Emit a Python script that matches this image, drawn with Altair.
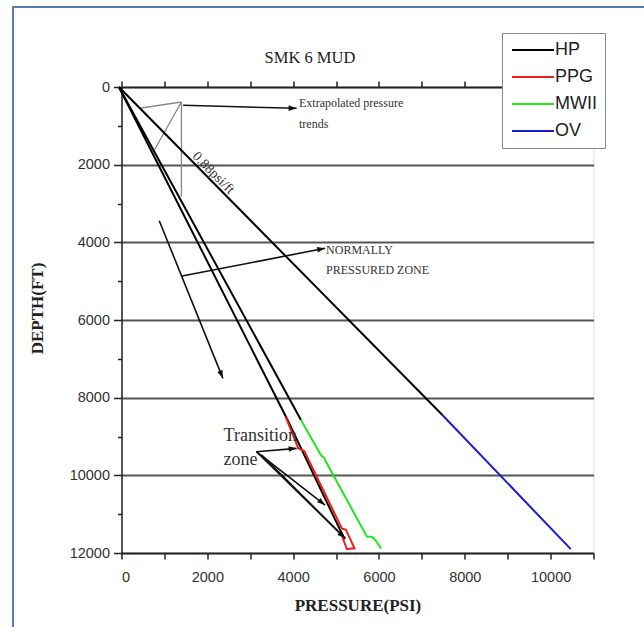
import math
import altair as alt
import pandas as pd

# ---------------- data ----------------
series_names = ["HP", "PPG", "MWII", "OV"]
series_colors = ["#000000", "#ee1c1c", "#22e622", "#1a1ad6"]

hp_pressure = [-60, 3850, 5200]
hp_depth = [0, 8530, 11650]

ppg_pressure = [3824, 4120, 4260, 5135, 5230, 5431, 5253, 5150]
ppg_depth = [8490, 9305, 9374, 11366, 11400, 11880, 11898, 11600]

mwii_pressure = [4183, 4660, 4720, 4760, 5721, 5838, 5916, 6049]
mwii_depth = [8576, 9500, 9540, 9640, 11581, 11581, 11666, 11880]

ov_pressure = [7478, 10470]
ov_depth = [8446, 11900]

# black extrapolated trends above the data
trend_mw_pressure = [-60, 4183]
trend_mw_depth = [0, 8576]
trend_ov_pressure = [-60, 7478]
trend_ov_depth = [0, 8446]

# thin grey construction lines (p1, d1, p2, d2)
grey_p1 = [459, 1396, 1396]
grey_d1 = [541, 386, 386]
grey_p2 = [1396, 770, 1396]
grey_d2 = [386, 1615, 2825]

# annotation arrows (p1, d1, p2, d2)
arrow_p1 = [1436, 880, 1412, 3145, 3145, 3145, 3269]
arrow_d1 = [471, 3443, 4867, 9392, 9392, 9392, 9477]
arrow_p2 = [4082, 2363, 4745, 4082, 4745, 5213, 5213]
arrow_d2 = [549, 7502, 4154, 9305, 10765, 11623, 11623]

# annotation texts
note_text = ["Extrapolated pressure", "trends", "NORMALLY", "PRESSURED ZONE", "Transition", "zone"]
note_pressure = [4136, 4136, 4768, 4768, 2379, 2379]
note_depth = [412, 953, 4198, 4713, 8988, 9606]
note_size = [12, 12, 12, 12, 18, 18]

slope_text = ["0.88psi/ft"]
slope_pressure = [2140]
slope_depth = [2215]

chart_title = "SMK 6 MUD"

x_ticks = list(range(0, 11001, 1000))
y_ticks = list(range(0, 12001, 1000))

W, H = 472, 466
XMAX, YMAX = 11000, 12000

# ---------------- tables ----------------
rows = []
for name, ps, ds in [("HP", hp_pressure, hp_depth), ("PPG", ppg_pressure, ppg_depth),
                     ("MWII", mwii_pressure, mwii_depth), ("OV", ov_pressure, ov_depth)]:
    for i, (p, d) in enumerate(zip(ps, ds)):
        rows.append({"series": name, "pressure": p, "depth": d, "order": i})
lines_df = pd.DataFrame(rows)

trend_rows = []
for k, (ps, ds) in enumerate([(trend_mw_pressure, trend_mw_depth), (trend_ov_pressure, trend_ov_depth)]):
    for i, (p, d) in enumerate(zip(ps, ds)):
        trend_rows.append({"seg": k, "pressure": p, "depth": d, "order": i})
trend_df = pd.DataFrame(trend_rows)

grey_df = pd.DataFrame({"p1": grey_p1, "d1": grey_d1, "p2": grey_p2, "d2": grey_d2})
arrow_df = pd.DataFrame({"p1": arrow_p1, "d1": arrow_d1, "p2": arrow_p2, "d2": arrow_d2})
arrow_df["angle"] = [
    math.degrees(math.atan2((b - a) / XMAX * W, -(d - c) / YMAX * H)) % 360
    for a, b, c, d in zip(arrow_df.p1, arrow_df.p2, arrow_df.d1, arrow_df.d2)
]
notes_df = pd.DataFrame({"text": note_text, "pressure": note_pressure, "depth": note_depth, "size": note_size})
slope_df = pd.DataFrame({"text": slope_text, "pressure": slope_pressure, "depth": slope_depth})

xscale = alt.Scale(domain=[0, XMAX], nice=False, zero=False)
yscale = alt.Scale(domain=[0, YMAX], reverse=True, nice=False, zero=False)

even = "datum.value % 2000 === 0"

x_bottom = alt.Axis(
    values=x_ticks, labelExpr=f"{even} ? datum.label : ''", format="d",
    title="PRESSURE(PSI)", titleFont="Liberation Serif", titleFontSize=17, titleFontWeight="bold",
    titleColor="#222", titlePadding=14,
    labelFont="Liberation Sans", labelFontSize=14.5, labelColor="#333", labelPadding=11,
    tickSize=6, tickColor="#222", tickWidth=1.5, domainColor="#222", domainWidth=1.5,
    grid=False, labelOverlap=False,
)
x_top = alt.Axis(
    orient="top", values=x_ticks, labels=False, title="",
    tickSize=6, tickColor="#222", tickWidth=1.5, domainColor="#222", domainWidth=1.5, grid=False,
)
y_left = alt.Axis(
    values=y_ticks, labelExpr=f"{even} ? datum.label : ''", format="d",
    title="DEPTH(FT)", titleFont="Liberation Serif", titleFontSize=17, titleFontWeight="bold",
    titleColor="#222", titleX=-75, titleY=221,
    labelFont="Liberation Sans", labelFontSize=14.5, labelColor="#333", labelPadding=4,
    tickSize={"condition": {"test": even, "value": 8}, "value": 4},
    tickColor="#222", tickWidth=1.5, domainColor="#222", domainWidth=1.5,
    grid=True, gridColor="#555", gridWidth=2,
    gridOpacity={"condition": {"test": even, "value": 1}, "value": 0},
    labelOverlap=False,
)

frame = alt.Chart(pd.DataFrame({"k": [0]})).mark_rect(
    fill="transparent", stroke="#5b7bb2", strokeWidth=2
).encode(x=alt.value(-108.5), x2=alt.value(640), y=alt.value(-80), y2=alt.value(640))

title_mark = alt.Chart(pd.DataFrame({"text": [chart_title]})).mark_text(
    font="Liberation Serif", fontSize=16.5, color="#222", align="center", baseline="middle"
).encode(text="text:N", x=alt.value(310 - 121.5), y=alt.value(58 - 87))

top_axis_layer = alt.Chart(pd.DataFrame({"pressure": [0]})).mark_point(opacity=0).encode(
    x=alt.X("pressure:Q", scale=xscale, axis=x_top)
)

grey = alt.Chart(grey_df).mark_rule(color="#888888", strokeWidth=1.3).encode(
    x=alt.X("p1:Q", scale=xscale, axis=None), x2="p2:Q",
    y=alt.Y("d1:Q", scale=yscale, axis=None), y2="d2:Q",
)

trend = alt.Chart(trend_df).mark_line(color="#000000", strokeWidth=2).encode(
    x=alt.X("pressure:Q", scale=xscale, axis=None),
    y=alt.Y("depth:Q", scale=yscale, axis=None),
    detail="seg:N", order="order:Q",
)

lines = alt.Chart(lines_df).mark_line(strokeWidth=2).encode(
    x=alt.X("pressure:Q", scale=xscale, axis=x_bottom),
    y=alt.Y("depth:Q", scale=yscale, axis=y_left),
    color=alt.Color(
        "series:N",
        scale=alt.Scale(domain=series_names, range=series_colors),
        sort=series_names,
        legend=alt.Legend(
            title=None, orient="none", legendX=380.5, legendY=-54,
            symbolType="M-1,0L5,0", symbolSize=196, symbolStrokeWidth=2,
            labelFont="Liberation Sans", labelFontSize=18, labelColor="#222", labelOffset=27,
            strokeColor="#888888", fillColor="white", padding=8, rowPadding=9,
        ),
    ),
    order="order:Q",
)

arrow_lines = alt.Chart(arrow_df).mark_rule(color="#111111", strokeWidth=1.6).encode(
    x=alt.X("p1:Q", scale=xscale, axis=None), x2="p2:Q",
    y=alt.Y("d1:Q", scale=yscale, axis=None), y2="d2:Q",
)
arrow_heads = alt.Chart(arrow_df).mark_point(
    shape="M0,0L0.7,2L-0.7,2Z", filled=True, size=64, color="#111111", opacity=1
).encode(
    x=alt.X("p2:Q", scale=xscale, axis=None),
    y=alt.Y("d2:Q", scale=yscale, axis=None),
    angle=alt.Angle("angle:Q", scale=None),
)

notes = alt.Chart(notes_df).mark_text(
    align="left", baseline="middle", font="Liberation Serif", color="#333333"
).encode(
    x=alt.X("pressure:Q", scale=xscale, axis=None),
    y=alt.Y("depth:Q", scale=yscale, axis=None),
    text="text:N", size=alt.Size("size:Q", scale=None),
)
slope = alt.Chart(slope_df).mark_text(
    align="center", baseline="middle", font="Liberation Serif", color="#333333", fontSize=14, angle=45
).encode(
    x=alt.X("pressure:Q", scale=xscale, axis=None),
    y=alt.Y("depth:Q", scale=yscale, axis=None),
    text="text:N",
)

chart = alt.layer(
    frame, title_mark, top_axis_layer, grey, trend, lines, arrow_lines, arrow_heads, notes, slope
).resolve_axis(x="independent", y="independent").properties(
    width=W, height=H,
    autosize=alt.AutoSizeParams(type="none"),
    padding={"left": 121.5, "top": 87, "right": 50.5, "bottom": 74},
).configure_view(strokeWidth=0).configure(background="white")

chart.save("out.html", embed_options={"renderer": "svg", "actions": False})
